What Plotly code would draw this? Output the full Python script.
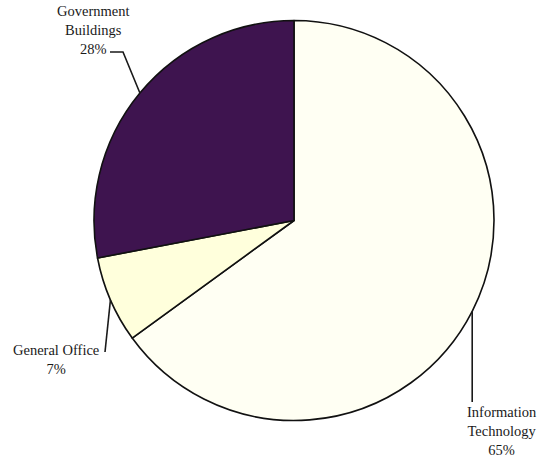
import math
import plotly.graph_objects as go

# Share of spending by area (percent)
categories = ["Information Technology", "General Office", "Government Buildings"]
shares = [65, 7, 28]
label_lines = [["Information", "Technology"], ["General Office"], ["Government", "Buildings"]]

colors = ["#FFFFF3", "#FFFFDC", "#3E144F"]

W, H = 542, 457
CX, CY, R = 294, 220.5, 200        # pie centre and radius in pixels

def px(x, y):
    """pixel position -> paper coordinates"""
    return x / W, 1 - y / H

def edge_point(idx):
    """point on the rim at the middle of slice idx (clockwise from 12 o'clock)"""
    total = sum(shares)
    start = sum(shares[:idx]) / total * 360
    mid = start + shares[idx] / total * 360 / 2
    a = math.radians(mid)
    return CX + R * math.sin(a), CY - R * math.cos(a)

fig = go.Figure(go.Pie(
    labels=categories,
    values=shares,
    sort=False,
    direction="clockwise",
    rotation=0,
    textinfo="none",
    hoverinfo="label+percent",
    marker=dict(colors=colors, line=dict(color="#111111", width=1.6)),
    domain=dict(x=[(CX - R) / W, (CX + R) / W],
                y=[(H - CY - R) / H, (H - CY + R) / H]),
    showlegend=False,
))

font = dict(family="Liberation Serif", size=14.5, color="#1a1a1a")

# label block centres and leader-line paths (pixel space)
label_pos = {0: (502, 431), 1: (56, 359), 2: (93, 30)}
leader_via = {0: [], 1: [], 2: [(123, 52), (110, 52)]}
leader_end = {0: None, 1: (105, 352), 2: None}

shapes = []
annotations = []
for i, name in enumerate(categories):
    text = "<br>".join(label_lines[i] + [f"{shares[i]}%"])
    lx, ly = px(*label_pos[i])
    annotations.append(dict(x=lx, y=ly, xref="paper", yref="paper", text=text,
                            showarrow=False, xanchor="center", yanchor="middle",
                            font=font, align="center"))
    ex, ey = edge_point(i)
    pts = [(ex, ey)]
    if i == 0:
        pts.append((ex, 402))
    pts += leader_via[i]
    if leader_end[i]:
        pts.append(leader_end[i])
    path = "M " + " L ".join(f"{px(x, y)[0]:.5f},{px(x, y)[1]:.5f}" for x, y in pts)
    shapes.append(dict(type="path", path=path, xref="paper", yref="paper",
                       line=dict(color="#1a1a1a", width=1.6)))

fig.update_layout(
    width=W, height=H,
    margin=dict(l=0, r=0, t=0, b=0),
    paper_bgcolor="white",
    plot_bgcolor="white",
    font=dict(family="Liberation Serif"),
    shapes=shapes,
    annotations=annotations,
)

fig.write_html("out.html")
